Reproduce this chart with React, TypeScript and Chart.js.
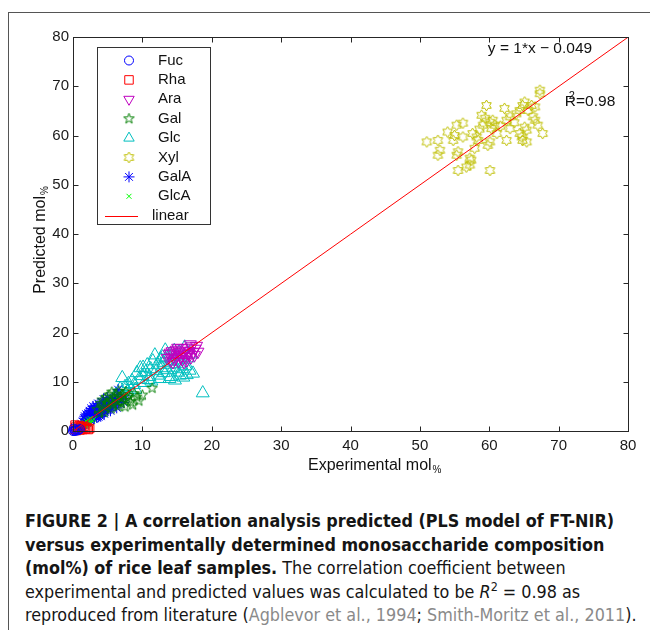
import React, { useEffect, useRef } from "react";
import { Chart, registerables, PointElement } from "chart.js";

Chart.register(...registerables);

const FONT = "'Liberation Sans', Arial, Helvetica, sans-serif";
const CAP_FONT = "'Liberation Sans Narrow', 'Arial Narrow', 'DejaVu Sans Condensed', sans-serif";

// ---- data (x = experimental mol%, y = predicted mol%) ----
const fucPoints: [number, number][] = [
  [0, 0], [0.2, 0.1], [0.4, 0.3], [0.6, 0.1], [0.1, 0.5], [0.8, 0.2], [0.3, 0.0], [1.0, 0.4],
];
const rhaPoints: [number, number][] = [
  [0.2, 0.3], [0.4, 0.8], [0.5, 0.1], [0.7, 0.5], [0.9, 1.1], [1.0, 0.2], [1.2, 0.6], [1.4, 0.3],
  [1.6, 0.9], [1.8, 0.4], [2.0, 0.7], [2.2, 0.3], [0.3, 1.2], [1.1, 0.9], [2.4, 0.5],
];
const araPoints: [number, number][] = [
  [13.6, 14.8], [13.9, 15.6], [14.1, 14.3], [14.3, 16.2], [14.5, 15.1], [14.7, 14.6], [14.9, 16.5],
  [15.0, 15.4], [15.2, 14.2], [15.3, 16.0], [15.5, 15.0], [15.6, 16.8], [15.8, 14.6], [15.9, 15.7],
  [16.1, 16.3], [16.2, 15.1], [16.4, 14.4], [16.5, 16.9], [16.7, 15.6], [16.8, 16.2], [17.0, 15.0],
  [17.1, 17.2], [17.3, 16.0], [17.5, 15.4], [17.6, 16.7], [17.8, 17.3], [18.0, 16.1], [14.4, 14.0],
  [15.1, 16.9], [16.0, 14.0], [16.9, 17.6], [14.0, 15.9], [15.7, 15.3], [16.6, 15.8],
];
const galPoints: [number, number][] = [
  [3.5, 4.4], [4.0, 5.6], [4.2, 6.3], [4.5, 4.9], [4.8, 6.8], [5.0, 5.5], [5.2, 7.3], [5.4, 6.0],
  [5.6, 7.9], [5.8, 5.3], [6.0, 6.7], [6.2, 7.5], [6.4, 6.0], [6.6, 8.1], [6.8, 6.9], [7.0, 5.6],
  [7.2, 7.4], [7.4, 6.2], [7.6, 8.0], [7.8, 6.7], [8.0, 7.2], [8.3, 5.9], [8.6, 5.3], [8.8, 7.6],
  [9.2, 6.9], [9.5, 6.1], [10.0, 7.3], [11.4, 8.7], [4.5, 3.8], [5.5, 4.5], [6.5, 5.0], [3.8, 3.6],
  [7.5, 4.9],
];
const glcPoints: [number, number][] = [
  [6.2, 7.4], [6.8, 8.6], [7.1, 10.8], [7.5, 9.0], [7.9, 8.0], [8.2, 8.7], [8.5, 10.2], [8.8, 9.4],
  [9.2, 11.8], [9.5, 10.5], [9.7, 12.8], [10.0, 11.2], [10.3, 9.8], [10.5, 12.0], [10.7, 13.4],
  [11.0, 11.0], [11.2, 12.6], [11.5, 14.2], [11.8, 15.4], [12.0, 12.2], [12.2, 13.5], [12.4, 11.3],
  [12.6, 14.6], [12.8, 12.8], [13.0, 13.9], [13.1, 11.8], [13.3, 16.4], [13.5, 14.9], [13.6, 12.4],
  [13.8, 13.5], [14.0, 15.6], [14.1, 11.0], [14.3, 14.2], [14.5, 12.9], [14.7, 10.3], [14.8, 15.2],
  [15.0, 13.6], [15.1, 11.9], [15.3, 16.0], [15.5, 14.4], [15.7, 12.6], [15.9, 10.9], [16.1, 17.0],
  [16.2, 13.2], [16.4, 11.4], [16.6, 14.8], [16.8, 12.3], [17.0, 15.6], [17.3, 11.7], [18.7, 7.7],
  [11.3, 10.1], [12.5, 10.6], [9.0, 8.4], [10.9, 10.4], [13.9, 10.6], [15.4, 11.3], [14.6, 16.3],
  [12.9, 15.0], [10.1, 12.9], [8.0, 9.6],
];
const xylPoints: [number, number][] = [
  [51.0, 58.7], [52.6, 59.0], [52.9, 57.0], [52.6, 56.0], [54.0, 60.7], [55.3, 62.1], [56.2, 62.5],
  [54.8, 59.0], [55.0, 60.0], [56.2, 59.7], [55.5, 56.7], [55.3, 56.0], [57.2, 55.4], [57.4, 55.0],
  [55.5, 52.9], [56.7, 53.6], [57.2, 54.0], [57.6, 60.4], [58.2, 59.7], [58.4, 59.0], [58.9, 64.1],
  [59.4, 63.5], [59.6, 66.1], [60.1, 62.7], [60.5, 63.1], [60.8, 62.1], [59.1, 62.1], [60.3, 61.4],
  [61.1, 60.4], [59.8, 58.0], [60.1, 58.7], [60.1, 52.9], [62.2, 65.5], [62.5, 63.1], [63.0, 63.8],
  [62.5, 59.0], [63.0, 61.4], [64.4, 60.4], [64.7, 59.7], [65.1, 66.8], [64.8, 66.1], [64.8, 59.0],
  [65.4, 58.7], [65.1, 61.7], [65.4, 61.1], [66.1, 66.1], [66.6, 65.8], [66.3, 63.8], [66.6, 63.1],
  [67.3, 69.2], [67.3, 68.5], [67.0, 62.1], [67.7, 60.4], [63.9, 64.4], [64.4, 65.1], [65.6, 65.1],
  [57.9, 57.4], [61.6, 61.9], [63.6, 62.6], [58.6, 61.3],
];
const galAPoints: [number, number][] = [
  [1.4, 1.9], [1.6, 2.6], [1.8, 2.2], [2.0, 3.1], [2.1, 2.5], [2.2, 3.6], [2.3, 2.0], [2.4, 3.0],
  [2.5, 3.9], [2.6, 2.7], [2.7, 3.4], [2.8, 4.2], [2.9, 2.9], [3.0, 3.7], [3.1, 4.5], [3.2, 3.2],
  [3.3, 4.0], [3.4, 2.8], [3.5, 4.6], [3.6, 3.6], [3.7, 4.3], [3.8, 3.2], [3.9, 5.0], [4.0, 4.0],
  [4.1, 4.7], [4.2, 3.6], [4.3, 5.3], [4.4, 4.4], [4.5, 5.0], [4.6, 3.9], [4.7, 5.6], [4.8, 4.6],
  [4.9, 5.2], [5.0, 4.3], [5.2, 5.8], [5.3, 5.0], [5.5, 6.2], [5.6, 4.8], [5.8, 5.5], [6.0, 6.6],
  [6.2, 5.2], [6.4, 7.4], [6.6, 6.0], [6.5, 8.4], [7.0, 6.5], [7.3, 5.8], [2.0, 1.6], [3.0, 2.4],
  [1.9, 3.4], [2.6, 4.6], [4.0, 3.0], [5.0, 6.8], [3.3, 5.2], [1.5, 1.2], [1.7, 3.0], [2.2, 1.8],
  [2.4, 4.1], [2.8, 3.1], [3.1, 2.6], [3.4, 4.9], [3.6, 5.6], [3.9, 3.4], [4.2, 5.9], [4.5, 3.5],
  [4.8, 6.1], [5.1, 5.1], [5.4, 4.1], [5.7, 6.7], [6.1, 5.8], [6.3, 4.7], [6.8, 7.0], [7.6, 6.7],
  [2.9, 5.0], [3.7, 2.9], [4.4, 6.5], [1.2, 1.5], [2.5, 2.2],
];
const glcAPoints: [number, number][] = [
  [0.6, 0.6], [0.8, 0.9], [0.9, 0.5], [1.0, 1.2], [1.1, 0.8], [1.2, 1.5], [1.3, 1.0], [1.4, 0.7],
  [1.5, 1.3], [1.6, 1.7], [1.7, 1.0], [1.8, 1.4], [1.9, 2.0], [2.0, 1.2], [2.1, 1.7], [2.2, 2.3],
  [2.3, 1.4], [2.4, 1.9], [2.5, 2.5], [2.6, 1.6], [2.8, 2.1], [3.0, 2.4], [1.0, 0.4], [1.5, 0.6],
  [2.0, 0.9],
];

// linear fit y = slope*x + intercept
const fitSlope = 1;
const fitIntercept = -0.049;
const fitX = [0, 80];

const axisTicks = [0, 10, 20, 30, 40, 50, 60, 70, 80];
const eqLabel = "y = 1*x \u2212 0.049";
const r2Label = "=0.98";

function starCanvas(n: number, outer: number, innerRatio: number, color: string) {
  const size = Math.ceil(outer * 2 + 4);
  const c = document.createElement("canvas");
  c.width = size;
  c.height = size;
  const g = c.getContext("2d")!;
  const cx = size / 2, cy = size / 2;
  g.strokeStyle = color;
  g.lineWidth = 1;
  g.beginPath();
  for (let i = 0; i < n * 2; i++) {
    const r = i % 2 === 0 ? outer : outer * innerRatio;
    const a = -Math.PI / 2 + (i * Math.PI) / n;
    const px = cx + r * Math.cos(a), py = cy + r * Math.sin(a);
    if (i === 0) g.moveTo(px, py);
    else g.lineTo(px, py);
  }
  g.closePath();
  g.stroke();
  return c;
}

const legendPlugin = {
  id: "boxLegend",
  afterDraw(chart: any) {
    const { ctx, chartArea } = chart;
    const bx = Math.round(chartArea.left + 24), by = Math.round(chartArea.top + 10);
    const bw = 113, bh = 177;
    ctx.save();
    ctx.fillStyle = "#ffffff";
    ctx.fillRect(bx, by, bw, bh);
    ctx.strokeStyle = "#333333";
    ctx.lineWidth = 1;
    ctx.strokeRect(bx + 0.5, by + 0.5, bw, bh);
    ctx.font = `15px ${FONT}`;
    ctx.textBaseline = "middle";
    ctx.textAlign = "left";
    ctx.fillStyle = "#111111";
    chart.data.datasets.forEach((ds: any, i: number) => {
      const yy = by + 13.5 + i * 19.4;
      if (ds.type === "line") {
        ctx.strokeStyle = ds.borderColor;
        ctx.beginPath();
        ctx.moveTo(bx + 8, Math.round(yy) + 0.5);
        ctx.lineTo(bx + 41, Math.round(yy) + 0.5);
        ctx.stroke();
        ctx.fillText(ds.label, bx + 55, yy);
      } else {
        const pe: any = new PointElement({});
        pe.x = bx + 32;
        pe.y = yy;
        pe.options = {
          pointStyle: ds.pointStyle,
          radius: Math.min(ds.pointRadius, 6),
          rotation: ds.pointRotation || 0,
          borderColor: ds.pointBorderColor,
          backgroundColor: "rgba(0,0,0,0)",
          borderWidth: 1,
        };
        pe.draw(ctx);
        ctx.fillStyle = "#111111";
        ctx.fillText(ds.label, bx + 61, yy);
      }
    });
    ctx.restore();
  },
};

const framePlugin = {
  id: "frame",
  afterDatasetsDraw(chart: any) {
    const { ctx, chartArea, scales } = chart;
    const l = Math.round(chartArea.left) + 0.5, r = Math.round(chartArea.right) + 0.5;
    const t = Math.round(chartArea.top) + 0.5, b = Math.round(chartArea.bottom) + 0.5;
    ctx.save();
    ctx.strokeStyle = "#262626";
    ctx.lineWidth = 1;
    ctx.strokeRect(l, t, r - l, b - t);
    const tl = 5;
    ctx.beginPath();
    scales.x.ticks.forEach((tk: any) => {
      const px = Math.round(scales.x.getPixelForValue(tk.value)) + 0.5;
      ctx.moveTo(px, b);
      ctx.lineTo(px, b - tl);
      ctx.moveTo(px, t);
      ctx.lineTo(px, t + tl);
    });
    scales.y.ticks.forEach((tk: any) => {
      const py = Math.round(scales.y.getPixelForValue(tk.value)) + 0.5;
      ctx.moveTo(l, py);
      ctx.lineTo(l + tl, py);
      ctx.moveTo(r, py);
      ctx.lineTo(r - tl, py);
    });
    ctx.stroke();

    // annotations
    ctx.fillStyle = "#111111";
    ctx.font = `15.5px ${FONT}`;
    ctx.textBaseline = "middle";
    ctx.textAlign = "left";
    ctx.fillText(eqLabel, scales.x.getPixelForValue(59.8), scales.y.getPixelForValue(77.7));
    const rx = scales.x.getPixelForValue(70.9), ry = scales.y.getPixelForValue(66.9);
    ctx.fillText("R", rx, ry);
    const rw = ctx.measureText("R").width;
    ctx.font = `11px ${FONT}`;
    ctx.fillText("2", rx + 4, ry - 6);
    ctx.font = `15.5px ${FONT}`;
    ctx.fillText(r2Label, rx + rw, ry);

    // axis titles
    const main = "Experimental mol";
    ctx.font = `16px ${FONT}`;
    ctx.textBaseline = "alphabetic";
    const mw = ctx.measureText(main).width;
    const xt = 300, yt = 462;
    ctx.fillText(main, xt, yt);
    ctx.font = `10px ${FONT}`;
    ctx.fillText("%", xt + mw + 1, yt + 3);

    ctx.translate(37, 232);
    ctx.rotate(-Math.PI / 2);
    const ymain = "Predicted mol";
    ctx.font = `16px ${FONT}`;
    const yw = ctx.measureText(ymain).width;
    ctx.font = `10px ${FONT}`;
    const pw = ctx.measureText("%").width;
    const total = yw + pw + 1;
    ctx.font = `16px ${FONT}`;
    ctx.fillText(ymain, -total / 2, 0);
    ctx.font = `10px ${FONT}`;
    ctx.fillText("%", -total / 2 + yw + 1, 3);
    ctx.restore();
  },
};

function toXY(pts: [number, number][]) {
  return pts.map(([x, y]) => ({ x, y }));
}

function scatter(label: string, pts: [number, number][], style: any, radius: number, color: string, order: number, rotation = 0) {
  return {
    type: "scatter",
    label,
    data: toXY(pts),
    pointStyle: style,
    pointRadius: radius,
    pointRotation: rotation,
    pointBorderColor: color,
    pointBackgroundColor: "rgba(0,0,0,0)",
    pointBorderWidth: 1,
    borderColor: color,
    backgroundColor: "rgba(0,0,0,0)",
    showLine: false,
    clip: false,
    order,
  };
}

export default function App() {
  const ref = useRef<HTMLCanvasElement | null>(null);
  useEffect(() => {
    if (!ref.current) return;
    const pent = starCanvas(5, 5.5, 0.4, "#007f00");
    const hexa = starCanvas(6, 5.5, 0.58, "#bfbf00");
    const datasets: any[] = [
      scatter("Fuc", fucPoints, "circle", 4.5, "#0000ff", 1),
      scatter("Rha", rhaPoints, "rect", 6, "#ff0000", 2),
      scatter("Ara", araPoints, "triangle", 7, "#bf00bf", 4, 180),
      scatter("Gal", galPoints, pent, 5.5, "#007f00", 5),
      scatter("Glc", glcPoints, "triangle", 7.5, "#00bfbf", 7),
      scatter("Xyl", xylPoints, hexa, 5.5, "#bfbf00", 8),
      scatter("GalA", galAPoints, "star", 5.5, "#0000ff", 6),
      scatter("GlcA", glcAPoints, "crossRot", 3.5, "#00ff00", 3),
      {
        type: "line",
        label: "linear",
        data: fitX.map((x) => ({ x, y: fitSlope * x + fitIntercept })),
        borderColor: "#ff0000",
        borderWidth: 1,
        pointRadius: 0,
        fill: false,
        order: 0,
      },
    ];
    const chart = new Chart(ref.current, {
      type: "scatter",
      data: { datasets },
      options: {
        animation: false,
        responsive: false,
        events: [],
        layout: { padding: { top: 29, right: 30, left: 0, bottom: 0 } },
        plugins: { legend: { display: false }, tooltip: { enabled: false } },
        scales: {
          x: {
            type: "linear",
            min: axisTicks[0],
            max: axisTicks[axisTicks.length - 1],
            afterBuildTicks: (s: any) => { s.ticks = axisTicks.map((v) => ({ value: v })); },
            ticks: { font: { size: 15, family: FONT }, color: "#1a1a1a", padding: 6 },
            grid: { display: false, drawTicks: false },
            border: { display: false },
            afterFit: (s: any) => { s.height = 57; },
          },
          y: {
            type: "linear",
            min: axisTicks[0],
            max: axisTicks[axisTicks.length - 1],
            afterBuildTicks: (s: any) => { s.ticks = axisTicks.map((v) => ({ value: v })); },
            ticks: { font: { size: 15, family: FONT }, color: "#1a1a1a", padding: 4 },
            grid: { display: false, drawTicks: false },
            border: { display: false },
            afterFit: (s: any) => { s.width = 65; },
          },
        },
      } as any,
      plugins: [framePlugin, legendPlugin],
    });
    return () => chart.destroy();
  }, []);

  const gray = { color: "#8a8a8a" };
  return (
    <div style={{ position: "relative", width: 650, height: 622 }}>
      <style>{"html,body{overflow:hidden}"}</style>
      <div
        style={{
          position: "absolute",
          left: 0,
          top: 4,
          width: 660,
          height: 640,
          borderLeft: "1px solid #555",
          borderTop: "1px solid #555",
        }}
      />
      <canvas ref={ref} width={650} height={480} style={{ position: "absolute", left: 0, top: 0, width: 650, height: 480 }} />
      <div
        style={{
          position: "absolute",
          left: 17,
          top: 501,
          fontFamily: CAP_FONT,
          fontSize: 17.8,
          lineHeight: "23.5px",
          whiteSpace: "nowrap",
          color: "#151515",
        }}
      >
        <div><b>FIGURE 2 | A correlation analysis predicted (PLS model of FT-NIR)</b></div>
        <div><b>versus experimentally determined monosaccharide composition</b></div>
        <div><b>(mol%) of rice leaf samples.</b> The correlation coefficient between</div>
        <div>
          experimental and predicted values was calculated to be <i>R</i>
          <sup style={{ fontSize: "0.7em", lineHeight: 0 }}>2</sup> = 0.98 as
        </div>
        <div>
          reproduced from literature (<span style={gray}>Agblevor et al., 1994</span>;{" "}
          <span style={gray}>Smith-Moritz et al., 2011</span>).
        </div>
      </div>
    </div>
  );
}
